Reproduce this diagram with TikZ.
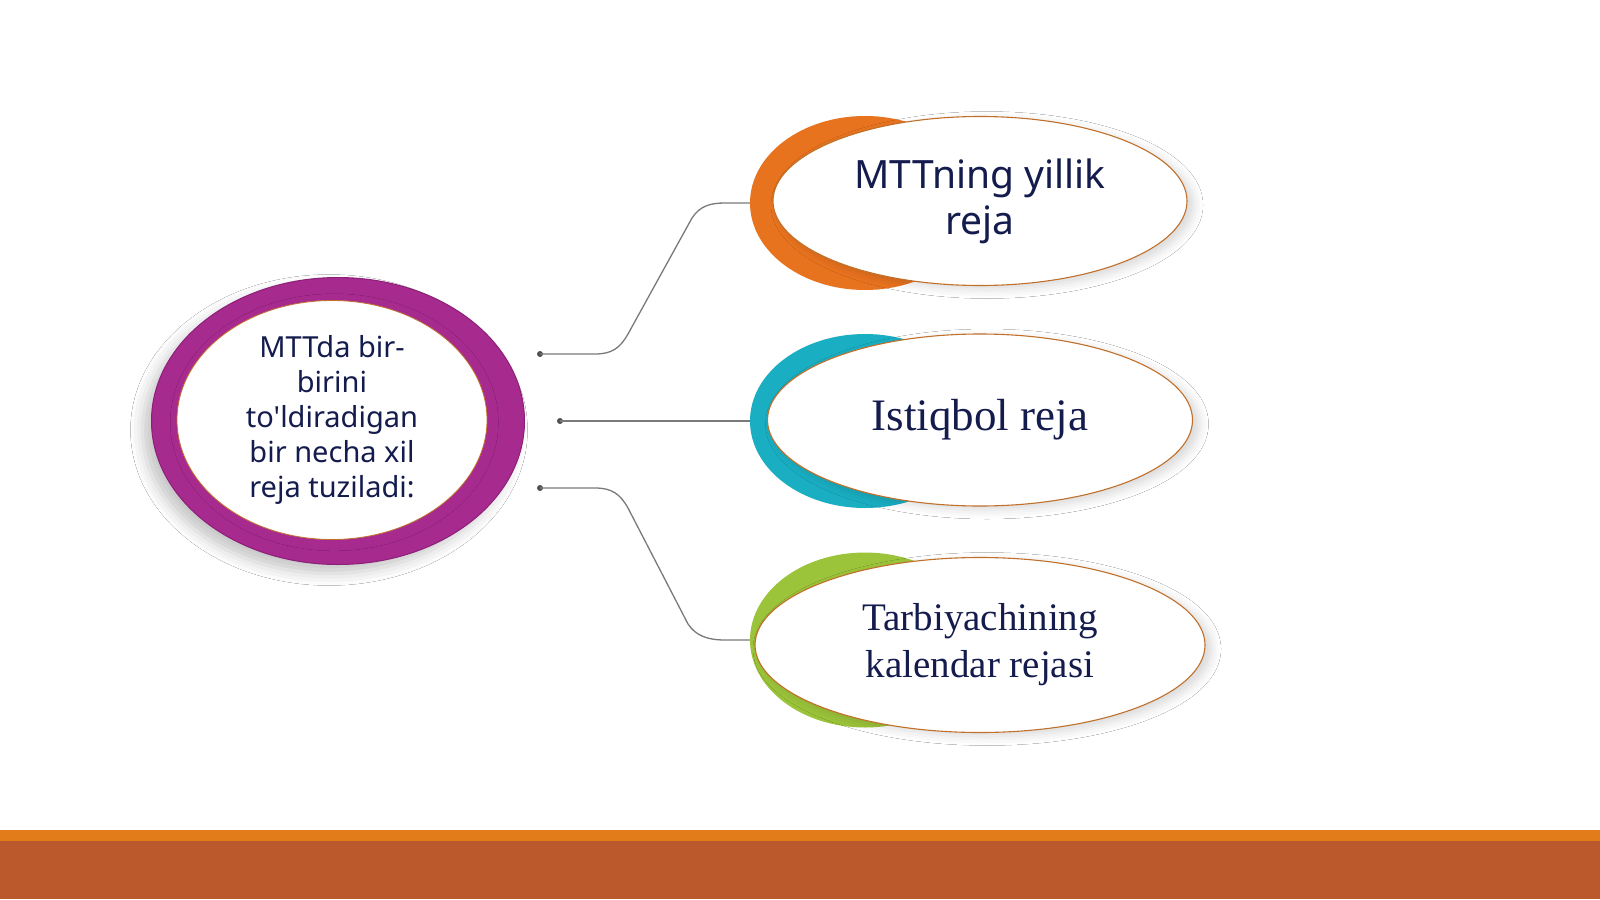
\documentclass[tikz,border=0pt]{standalone}
\usepackage{fontspec}
\setmainfont{Liberation Serif}
\newfontfamily\plansans{Noto Sans}
\usetikzlibrary{shapes.geometric,shadows.blur}
\definecolor{planink}{HTML}{141B4D}
\definecolor{cardedge}{HTML}{C0702A}
\definecolor{hubpurple}{HTML}{A72A8E}
\definecolor{hubdark}{HTML}{8C1F77}
\definecolor{yilorange}{HTML}{E8731F}
\definecolor{yilteal}{HTML}{1AAEC2}
\definecolor{yilgreen}{HTML}{9CC43A}
\definecolor{wiregray}{HTML}{7A7A7A}
\definecolor{knotgray}{HTML}{505050}
\definecolor{barorange}{HTML}{E27C1B}
\definecolor{barbrown}{HTML}{BC592C}

\begin{document}
\begin{tikzpicture}[x=1pt,y=-1pt,
    halo/.style={ellipse, inner sep=0pt},
    plancard/.style={ellipse, draw=cardedge, line width=1.1pt, fill=white,
      inner sep=0pt, align=center, text=planink,
      blur shadow={shadow xshift=7pt, shadow yshift=-4pt,
        shadow blur radius=9pt, shadow opacity=15}},
    wire/.style={draw=wiregray, line width=1.3pt},
    knot/.style={circle, fill=knotgray, inner sep=0pt, minimum size=6pt}
  ]
  \useasboundingbox (0,0) rectangle (1600,899);
  \fill[white] (0,0) rectangle (1600,899);

  \node[halo, draw=hubdark, line width=1pt, fill=hubpurple,
    minimum width=373pt, minimum height=287pt,
    blur shadow={shadow xshift=-9pt, shadow yshift=-9pt,
      shadow blur radius=12pt, shadow opacity=22}]
    (hubring) at (338,421) {};
  \node[plancard, line width=0.8pt, minimum width=310pt, minimum height=236pt,
    font=\plansans\fontsize{29}{35}\selectfont, blur shadow={shadow opacity=0}]
    (hub) at (332,420)
    {MTTda bir-\\birini\\to'ldiradigan\\bir necha xil\\reja tuziladi:};

  \node[halo, fill=yilorange, minimum width=230pt, minimum height=174pt]
    (yillikring) at (865,203) {};
  \node[plancard, minimum width=414pt, minimum height=169pt,
    font=\plansans\fontsize{39}{46}\selectfont]
    (yillik) at (980,201) {MTTning yillik\\reja};

  \node[halo, fill=yilteal, minimum width=230pt, minimum height=174pt]
    (istiqbolring) at (865,421) {};
  \node[plancard, minimum width=425pt, minimum height=172pt,
    font=\fontsize{45}{54}\selectfont]
    (istiqbol) at (980,420) {Istiqbol reja};

  \node[halo, fill=yilgreen, minimum width=230pt, minimum height=175pt]
    (kalendarring) at (865,640) {};
  \node[plancard, minimum width=450pt, minimum height=175pt,
    font=\fontsize{39}{47}\selectfont]
    (kalendar) at (980,645) {Tarbiyachining\\kalendar rejasi};

  \node[knot] (k1) at (540,354) {};
  \node[knot] (k2) at (560,421) {};
  \node[knot] (k3) at (540,488) {};

  \draw[wire] (k1.center) -- (595,354)
    .. controls (612,354) and (620,348) .. (628,334) -- (692,218)
    .. controls (700,206) and (710,203) .. (725,203) -- (yillikring.west);
  \draw[wire] (k2.center) -- (istiqbolring.west);
  \draw[wire] (k3.center) -- (595,488)
    .. controls (612,488) and (620,494) .. (628,508) -- (688,624)
    .. controls (696,636) and (708,640) .. (725,640) -- (kalendarring.west);

  \fill[barorange] (0,830) rectangle (1600,841);
  \fill[barbrown] (0,841) rectangle (1600,899);
\end{tikzpicture}
\end{document}
